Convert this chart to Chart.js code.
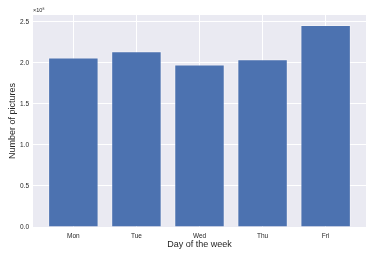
<!DOCTYPE html>
<html>
<head>
<meta charset="utf-8">
<script src="https://cdn.jsdelivr.net/npm/chart.js@4/dist/chart.umd.min.js"></script>
<style>
  html, body { margin: 0; padding: 0; background: #fff; }
  #wrap { width: 374px; height: 257px; }
</style>
</head>
<body>
<div id="wrap"><canvas id="bar-chart"></canvas></div>
<script>
// values in units of 1e8
var days = ["Mon", "Tue", "Wed", "Thu", "Fri"];
var pictures = [2.065, 2.14, 1.98, 2.045, 2.46];
var yTicks = [0, 0.5, 1.0, 1.5, 2.0, 2.5];

var textColor = "#262626";
var fontFamily = "'Liberation Sans', Arial, sans-serif";

// axes background + offset text
var bgPlugin = {
  id: "bg",
  beforeDraw: function(chart) {
    var a = chart.chartArea, ctx = chart.ctx;
    ctx.save();
    ctx.fillStyle = "#EAEAF2";
    ctx.fillRect(a.left, a.top, a.right - a.left, a.bottom - a.top);
    ctx.restore();
  },
  afterDraw: function(chart) {
    var a = chart.chartArea, ctx = chart.ctx;
    ctx.save();
    ctx.fillStyle = textColor;
    ctx.font = "5.5px " + fontFamily;
    ctx.textBaseline = "bottom";
    ctx.fillText("×10⁸", a.left, a.top - 2);
    ctx.restore();
  }
};

var points = pictures.map(function(v, i) { return { x: i, y: v }; });
var ymax = Math.max.apply(null, pictures) * 1.05;

new Chart(document.getElementById("bar-chart"), {
  type: "bar",
  data: {
    datasets: [{
      data: points,
      backgroundColor: "#4C72B0",
      borderColor: "rgba(255,255,255,0.35)",
      borderWidth: 1,
      barPercentage: 0.8,
      categoryPercentage: 1.0
    }]
  },
  options: {
    responsive: true,
    maintainAspectRatio: false,
    animation: false,
    layout: { padding: { top: 15, right: 8, left: 7, bottom: 7 } },
    plugins: { legend: { display: false }, tooltip: { enabled: false } },
    scales: {
      x: {
        type: "linear",
        offset: false,
        min: -0.64,
        max: 4.64,
        afterBuildTicks: function(scale) {
          scale.ticks = days.map(function(d, i) { return { value: i }; });
        },
        afterFit: function(scale) { scale.height = 23; },
        grid: { color: "#fff", lineWidth: 1, drawTicks: false, offset: false },
        border: { display: false },
        ticks: {
          color: textColor,
          font: { size: 6.5, family: fontFamily },
          padding: 5,
          maxRotation: 0,
          callback: function(v) { return days[v]; }
        },
        title: {
          display: true,
          text: "Day of the week",
          color: textColor,
          font: { size: 9, family: fontFamily },
          padding: { top: 0, bottom: 0 }
        }
      },
      y: {
        min: 0,
        max: ymax,
        afterBuildTicks: function(scale) {
          scale.ticks = yTicks.map(function(v) { return { value: v }; });
        },
        afterFit: function(scale) { scale.width = 26; },
        grid: { color: "#fff", lineWidth: 1, drawTicks: false },
        border: { display: false },
        ticks: {
          color: textColor,
          font: { size: 6.5, family: fontFamily },
          padding: 4,
          callback: function(v) { return v.toFixed(1); }
        },
        title: {
          display: true,
          text: "Number of pictures",
          color: textColor,
          font: { size: 9, family: fontFamily },
          padding: { top: 0, bottom: 0 }
        }
      }
    }
  },
  plugins: [bgPlugin]
});
</script>
</body>
</html>
